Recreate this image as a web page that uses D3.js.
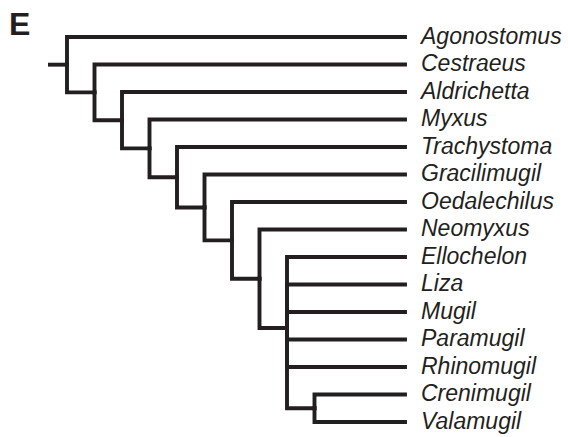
<!DOCTYPE html>
<html><head><meta charset="utf-8">
<script src="https://cdn.jsdelivr.net/npm/d3@7"></script>
<style>
html,body{margin:0;padding:0;background:#fff;}
svg{display:block;}
</style></head>
<body>
<svg id="chart" width="568" height="437"></svg>
<script>
// Data
const panelLabel = "E";
const taxa = ["Agonostomus","Cestraeus","Aldrichetta","Myxus","Trachystoma","Gracilimugil","Oedalechilus","Neomyxus","Ellochelon","Liza","Mugil","Paramugil","Rhinomugil","Crenimugil","Valamugil"];
// nested topology (strings = leaves, arrays = clades)
const topology = ["Agonostomus",["Cestraeus",["Aldrichetta",["Myxus",["Trachystoma",["Gracilimugil",["Oedalechilus",["Neomyxus",["Ellochelon","Liza","Mugil","Paramugil","Rhinomugil",["Crenimugil","Valamugil"]]]]]]]]]];

const ink = "#231f20";
const svg = d3.select("#chart");

function toNode(t){ return Array.isArray(t) ? {children:t.map(toNode)} : {name:t}; }
const root = d3.hierarchy(toNode(topology));
d3.cluster().nodeSize([1,1]).separation(()=>1)(root);

const maxDepth = d3.max(root.descendants().filter(d=>d.children), d=>d.depth);
const yScale = d3.scaleLinear().domain(d3.extent(root.leaves(), d=>d.x)).range([37,422]);
const xScale = d3.scaleLinear().domain([0, maxDepth]).range([67, 314.5]);
const leafX = 405;
const px = d => d.children ? xScale(d.depth) : leafX;
const py = d => yScale(d.x);
const sw = 3.9;

const g = svg.append("g");
g.append("line")
  .attr("x1",48).attr("x2",px(root))
  .attr("y1",py(root)).attr("y2",py(root))
  .attr("stroke",ink).attr("stroke-width",sw);

g.selectAll("path.link").data(root.links()).join("path")
  .attr("class","link")
  .attr("fill","none").attr("stroke",ink).attr("stroke-width",sw)
  .attr("stroke-linecap","square").attr("stroke-linejoin","miter")
  .attr("d", l => `M${px(l.source)},${py(l.source)}V${py(l.target)}H${px(l.target)}`);

g.selectAll("text.taxon").data(root.leaves()).join("text")
  .attr("class","taxon")
  .attr("x",421).attr("y",d=>py(d)+6.5)
  .attr("font-family","Liberation Sans, Arial, sans-serif")
  .attr("font-style","italic").attr("font-size",23)
  .attr("fill",ink)
  .text(d=>d.data.name);

svg.append("text").attr("x",9).attr("y",35)
  .attr("font-family","Liberation Sans, Arial, sans-serif")
  .attr("font-weight","bold").attr("font-size",32)
  .attr("fill",ink).text(panelLabel);
</script>
</body></html>
